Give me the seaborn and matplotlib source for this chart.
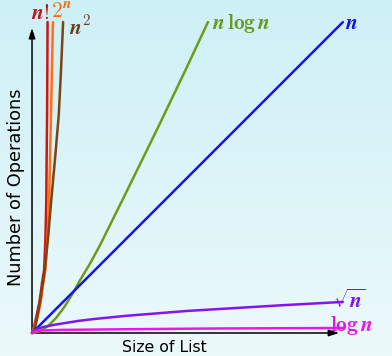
import numpy as np
import matplotlib
matplotlib.use('Agg')
import matplotlib.pyplot as plt
from matplotlib.colors import LinearSegmentedColormap
import seaborn as sns

# curves (size of list -> number of operations)
fact_x = [0, 0.05, 0.10, 0.16, 0.23, 0.28, 0.32, 0.36, 0.39, 0.43, 0.46, 0.47, 0.485, 0.50]
fact_y = [0, 0.15, 0.35, 0.62, 0.96, 1.28, 1.61, 1.85, 2.03, 3.00, 4.28, 5.60, 7.01, 10.0]
exp_x = [0, 0.06, 0.13, 0.20, 0.26, 0.31, 0.35, 0.43, 0.50, 0.55, 0.61, 0.64, 0.67, 0.68]
exp_y = [0, 0.15, 0.35, 0.60, 0.90, 1.20, 1.54, 2.03, 3.10, 4.28, 7.01, 8.40, 9.90, 10.0]
sq_x = [0, 0.04, 0.09, 0.14, 0.19, 0.25, 0.30, 0.36, 0.41, 0.52, 0.62, 0.74, 0.86, 0.93, 1.00]
sq_y = [0, 0.06, 0.16, 0.36, 0.64, 0.95, 1.29, 1.65, 2.03, 3.10, 4.28, 5.60, 7.01, 8.40, 10.0]
nlog_x = [0, 0.26, 0.51, 0.77, 1.03, 1.29, 1.54, 1.87, 2.19, 2.83, 3.47, 4.12, 4.92, 5.66]
nlog_y = [0, 0.06, 0.22, 0.48, 0.82, 1.24, 1.69, 2.24, 2.83, 4.12, 5.42, 6.75, 8.42, 10.0]
lin_x = [0, 10]
lin_y = [0, 10]
sqrt_x = [0, 0.03, 0.1, 0.2, 0.35, 0.5, 0.75, 1, 1.5, 2, 3, 4, 5, 6, 8, 10]
sqrt_y = [0, 0.055, 0.10, 0.14, 0.19, 0.22, 0.27, 0.31, 0.39, 0.45, 0.55, 0.63, 0.71, 0.77, 0.89, 1.0]
log_x = [0, 0.05, 0.1, 0.3, 0.6, 1, 2, 3, 4.5, 6, 8, 10]
log_y = [0, 0.04, 0.06, 0.08, 0.09, 0.10, 0.11, 0.12, 0.133, 0.145, 0.153, 0.16]

series = [
    (fact_x, fact_y, '#cc1515', r'$\boldsymbol{n}\mathbf{!}$', '#c0141e', (1.5, 6.5), 'right'),
    (exp_x, exp_y, '#ff7010', r'$\mathbf{2}^{\boldsymbol{n}}$', '#f07010', (-1.5, 7), 'left'),
    (sq_x, sq_y, '#7a4414', r'$\boldsymbol{n}^{\mathbf{2}}$', '#6b4020', (4, -3), 'left'),
    (nlog_x, nlog_y, '#6e9c18', r'$\boldsymbol{n}\,\mathbf{log}\,\boldsymbol{n}$', '#689a1e', (3, -1), 'left'),
    (lin_x, lin_y, '#1414ee', r'$\boldsymbol{n}$', '#1414e6', (1.5, -0.5), 'left'),
    (sqrt_x, sqrt_y, '#8614ee', r'$\sqrt{\boldsymbol{n}}$', '#8214e6', (-7, 1.5), 'left'),
    (log_x, log_y, '#ee14ee', r'$\mathbf{log}\,\boldsymbol{n}$', '#e614e6', (-9.5, 1.5), 'left'),
]

sns.set_theme(style='white')
plt.rcParams['mathtext.fontset'] = 'cm'
plt.rcParams['font.family'] = ['DejaVu Sans']

fig = plt.figure(figsize=(3.92, 3.56), dpi=100)
ax = fig.add_axes([0, 0, 1, 1])
xlim = (-1.03, 11.58)
ylim = (-0.74, 10.71)

bg = LinearSegmentedColormap.from_list('bg', ['#cdf0f6', '#ecf9fb'])
ax.imshow(np.linspace(0, 1, 256).reshape(-1, 1), cmap=bg, aspect='auto',
          extent=[xlim[0], xlim[1], ylim[0], ylim[1]], zorder=0)

# axes arrows
arrow = dict(arrowstyle='-|>,head_length=0.5,head_width=0.16', lw=1.1, color='black')
ax.annotate('', xy=(9.97, 0), xytext=(0, 0), arrowprops=arrow, zorder=2)
ax.annotate('', xy=(0, 9.9), xytext=(0, 0), arrowprops=arrow, zorder=2)

for xs, ys, col, lab, tcol, off, ha in series:
    sns.lineplot(x=xs, y=ys, ax=ax, color=col, lw=1.8, estimator=None, zorder=3)
    ax.annotate(lab, xy=(xs[-1], ys[-1]), xytext=off, textcoords='offset points',
                color=tcol, fontsize=15.5, ha=ha, va='center', zorder=4)

ax.set_xlim(*xlim)
ax.set_ylim(*ylim)
ax.axis('off')

fig.text(16 / 392, 1 - 187 / 356, 'Number of Operations', rotation=90,
         ha='center', va='center', fontsize=12.8, color='black')
fig.text(164 / 392, 1 - 348 / 356, 'Size of List', ha='center', va='center',
         fontsize=11.3, color='black')

fig.savefig('out.png', dpi=100)
